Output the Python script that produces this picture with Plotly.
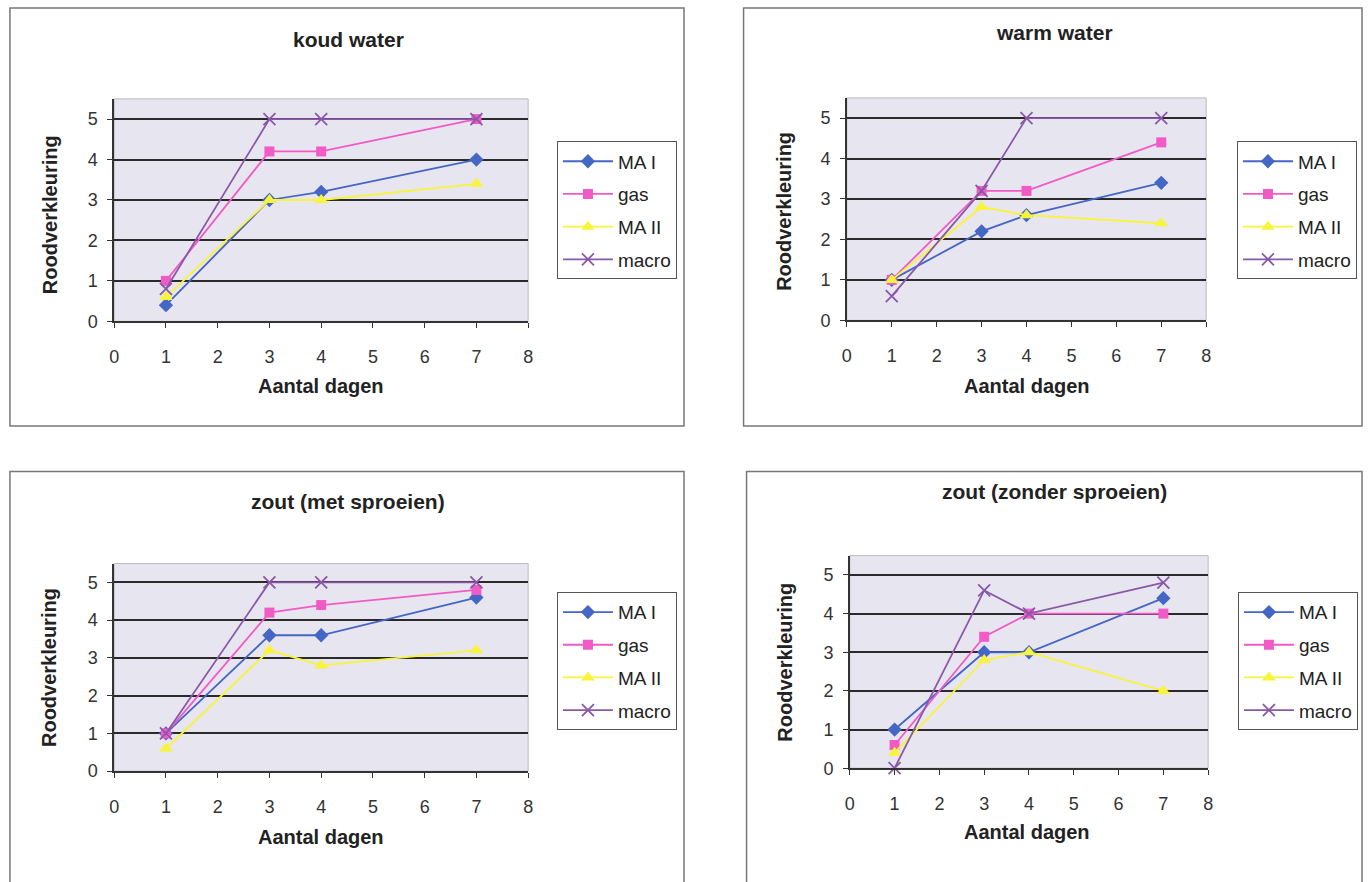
import plotly.graph_objects as go

days = [1, 3, 4, 7]
series_names = ["MA I", "gas", "MA II", "macro"]

koud_ma1 = [0.4, 3.0, 3.2, 4.0]
koud_gas = [1.0, 4.2, 4.2, 5.0]
koud_ma2 = [0.6, 3.0, 3.0, 3.4]
koud_macro = [0.8, 5.0, 5.0, 5.0]

warm_ma1 = [1.0, 2.2, 2.6, 3.4]
warm_gas = [1.0, 3.2, 3.2, 4.4]
warm_ma2 = [1.0, 2.8, 2.6, 2.4]
warm_macro = [0.6, 3.2, 5.0, 5.0]

met_ma1 = [1.0, 3.6, 3.6, 4.6]
met_gas = [1.0, 4.2, 4.4, 4.8]
met_ma2 = [0.6, 3.2, 2.8, 3.2]
met_macro = [1.0, 5.0, 5.0, 5.0]

zonder_ma1 = [1.0, 3.0, 3.0, 4.4]
zonder_gas = [0.6, 3.4, 4.0, 4.0]
zonder_ma2 = [0.4, 2.8, 3.0, 2.0]
zonder_macro = [0.0, 4.6, 4.0, 4.8]

titles = ["koud water", "warm water", "zout (met sproeien)", "zout (zonder sproeien)"]
x_title = "Aantal dagen"
y_title = "Roodverkleuring"

W, H = 1370, 882
def px(x): return x / W
def py(y): return 1 - y / H

panels = [
    dict(data=[koud_ma1, koud_gas, koud_ma2, koud_macro],
         plot=(110, 527, 100, 325), box=(5, 684, 8, 431),
         title=(346, 40), xt=(318, 390), yt=(45, 217), leg=(556, 143)),
    dict(data=[warm_ma1, warm_gas, warm_ma2, warm_macro],
         plot=(848, 1210, 99, 324), box=(744, 1367, 8, 431),
         title=(1057, 33), xt=(1030, 390), yt=(784, 214), leg=(1241, 143)),
    dict(data=[met_ma1, met_gas, met_ma2, met_macro],
         plot=(110, 527, 570, 780), box=(5, 684, 477, 895),
         title=(346, 507), xt=(318, 847), yt=(45, 675), leg=(556, 599)),
    dict(data=[zonder_ma1, zonder_gas, zonder_ma2, zonder_macro],
         plot=(851, 1212, 562, 777), box=(747, 1367, 477, 895),
         title=(1057, 497), xt=(1030, 842), yt=(786, 670), leg=(1242, 599)),
]

colors = ["#4466C4", "#F25AC6", "#F8F43A", "#8A58A8"]
symbols = ["diamond", "square", "triangle-up", "x-thin"]
sizes = [11, 10, 12, 12]

FONT = "Liberation Sans, Arial, sans-serif"
fig = go.Figure()
shapes = []
annotations = []
layout = {}

for i, p in enumerate(panels):
    n = "" if i == 0 else str(i + 1)
    xa, ya = "x" + n, "y" + n
    leg = "legend" + n
    x0, x1, y0, y1 = p["plot"]
    for j, vals in enumerate(p["data"]):
        fig.add_trace(go.Scatter(
            x=days, y=vals, name=series_names[j], mode="lines+markers",
            xaxis=xa, yaxis=ya, legend=leg, legendgroup=f"g{i}{j}",
            line=dict(color=colors[j], width=1.8),
            marker=dict(symbol=symbols[j], size=sizes[j], color=colors[j],
                        line=dict(color=colors[j], width=1.8 if j == 3 else 0)),
            cliponaxis=False,
        ))
    layout["xaxis" + n] = dict(
        domain=[px(x0), px(x1)], range=[0, 8], anchor=ya, dtick=1,
        showgrid=False, zeroline=False, showline=True, linecolor="#333",
        linewidth=1.5, ticks="outside", ticklen=5, tickcolor="#333",
        ticklabelstandoff=13, tickfont=dict(family=FONT, size=18, color="#333"),
        fixedrange=True)
    layout["yaxis" + n] = dict(
        domain=[py(y1), py(y0)], range=[0, 5.5], anchor=xa,
        tickvals=[0, 1, 2, 3, 4, 5], showgrid=True, gridcolor="#2a2a2a",
        gridwidth=1.8, zeroline=False, showline=True, linecolor="#333",
        linewidth=1.5, ticks="outside", ticklen=5, tickcolor="#333",
        ticklabelstandoff=6, tickfont=dict(family=FONT, size=18, color="#333"),
        fixedrange=True)
    layout[leg] = dict(
        x=px(p["leg"][0]), y=py(p["leg"][1]), xanchor="left", yanchor="top",
        bgcolor="white", bordercolor="#555", borderwidth=1,
        font=dict(family=FONT, size=19, color="#222"),
        tracegroupgap=5, itemwidth=50, itemclick=False)
    shapes.append(dict(type="rect", xref="paper", yref="paper",
                       x0=px(x0), x1=px(x1), y0=py(y1), y1=py(y0),
                       line=dict(color="#BBBBBB", width=1), fillcolor="#E7E5EF",
                       layer="below"))
    bx0, bx1, by0, by1 = p["box"]
    shapes.append(dict(type="rect", xref="paper", yref="paper",
                       x0=px(bx0), x1=px(bx1), y0=py(by1), y1=py(by0),
                       line=dict(color="#777", width=1.5), layer="below"))
    annotations.append(dict(text="<b>" + titles[i] + "</b>", x=px(p["title"][0]),
                            y=py(p["title"][1]), xref="paper", yref="paper",
                            xanchor="center", yanchor="middle",
                            showarrow=False, font=dict(family=FONT, size=21, color="#222")))
    annotations.append(dict(text="<b>" + x_title + "</b>", x=px(p["xt"][0]),
                            y=py(p["xt"][1]), xref="paper", yref="paper",
                            xanchor="center", yanchor="middle",
                            showarrow=False, font=dict(family=FONT, size=20, color="#222")))
    annotations.append(dict(text="<b>" + y_title + "</b>", x=px(p["yt"][0]),
                            y=py(p["yt"][1]), xref="paper", yref="paper",
                            xanchor="center", yanchor="middle",
                            textangle=-90, showarrow=False,
                            font=dict(family=FONT, size=20, color="#222")))

fig.update_layout(
    width=W, height=H, margin=dict(l=0, r=0, t=0, b=0),
    paper_bgcolor="white", plot_bgcolor="rgba(0,0,0,0)",
    shapes=shapes, annotations=annotations, **layout)

fig.write_html("out.html", config={"displayModeBar": False})
